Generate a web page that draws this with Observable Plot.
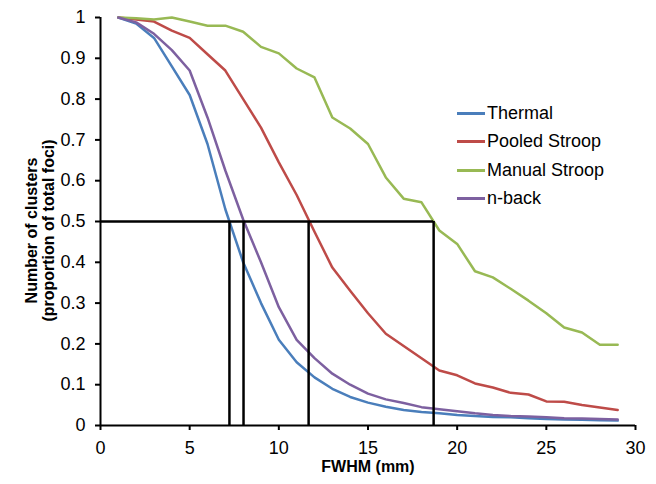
<!DOCTYPE html>
<html><head><meta charset="utf-8">
<script src="https://cdn.jsdelivr.net/npm/d3@7"></script>
<script src="https://cdn.jsdelivr.net/npm/@observablehq/plot@0.6"></script>
<style>
body{margin:0;background:#fff;font-family:"Liberation Sans",Arial,sans-serif}
#wrap{position:relative;width:656px;height:484px}
#legend{position:absolute;left:457px;top:99px;font-size:18px;color:#000}
.item{display:flex;align-items:center;height:28.5px}
.sw{width:28px;height:3px;margin-right:2px}
</style></head><body><div id="wrap"><div id="legend"></div></div>
<script>
const fwhm = [1,2,3,4,5,6,7,8,9,10,11,12,13,14,15,16,17,18,19,20,21,22,23,24,25,26,27,28,29];
const thermal = [1,0.985,0.95,0.88,0.81,0.69,0.53,0.40,0.30,0.21,0.155,0.118,0.09,0.07,0.056,0.046,0.038,0.033,0.03,0.026,0.023,0.021,0.02,0.018,0.016,0.015,0.014,0.013,0.012];
const pooled = [1,0.995,0.99,0.968,0.95,0.91,0.87,0.80,0.73,0.645,0.565,0.475,0.387,0.33,0.275,0.225,0.195,0.165,0.135,0.123,0.103,0.093,0.08,0.076,0.059,0.058,0.05,0.044,0.038];
const manual = [1,0.998,0.995,1,0.99,0.98,0.98,0.965,0.928,0.912,0.875,0.853,0.755,0.728,0.69,0.608,0.556,0.547,0.478,0.445,0.378,0.363,0.335,0.306,0.275,0.24,0.228,0.198,0.198];
const nback = [1,0.988,0.96,0.92,0.87,0.755,0.625,0.505,0.40,0.29,0.21,0.165,0.127,0.10,0.078,0.064,0.055,0.045,0.04,0.035,0.03,0.026,0.023,0.022,0.02,0.018,0.017,0.016,0.015];
const seriesNames = ["Thermal","Pooled Stroop","Manual Stroop","n-back"];
const seriesColors = ["#4a7ebb","#be4b48","#98b954","#7d60a0"];
const halfCrossings = [7.23, 8.02, 11.67, 18.68];
const halfLevel = 0.5;
const xTicks = [0,5,10,15,20,25,30];
const yTicks = [0,0.1,0.2,0.3,0.4,0.5,0.6,0.7,0.8,0.9,1];

const seriesValues = [thermal, pooled, manual, nback];
const rows = seriesValues.flatMap((vals, i) => vals.map((v, j) => ({x: fwhm[j], y: v, s: seriesNames[i]})));
const vrules = halfCrossings.map(c => ({x: c, y1: 0, y2: halfLevel}));
const maxCross = d3.max(halfCrossings);

const chart = Plot.plot({
  width: 656, height: 484,
  marginLeft: 100, marginRight: 21, marginTop: 17, marginBottom: 59,
  style: {fontFamily: '"Liberation Sans", Arial, sans-serif', fontSize: "18px", color: "#000", background: "#fff"},
  x: {domain: [0, 30]},
  y: {domain: [0, 1]},
  color: {domain: seriesNames, range: seriesColors},
  marks: [
    Plot.line(rows, {x: "x", y: "y", z: "s", stroke: "s", strokeWidth: 2.5}),
    Plot.ruleY([halfLevel], {x1: 0, x2: maxCross, stroke: "#000", strokeWidth: 2.5}),
    Plot.ruleX(vrules, {x: "x", y1: "y1", y2: "y2", stroke: "#000", strokeWidth: 2.5}),
    Plot.ruleX([0], {stroke: "#000", strokeWidth: 2}),
    Plot.ruleY([0], {stroke: "#000", strokeWidth: 2}),
    Plot.axisX({ticks: xTicks, tickSize: 5, tickPadding: 11, fontSize: 18, label: null, strokeWidth: 2}),
    Plot.axisY({ticks: yTicks, tickSize: 5, tickPadding: 10, fontSize: 18, label: null, strokeWidth: 2, tickFormat: d => String(+d.toFixed(1))}),
    Plot.text(["FWHM (mm)"], {frameAnchor: "bottom", lineAnchor: "middle", dy: 41, fontSize: 16, fontWeight: "bold", text: d => d}),
    Plot.text(["Number of clusters"], {frameAnchor: "left", textAnchor: "middle", dx: -69, dy: 9, rotate: -90, fontSize: 16, fontWeight: "bold", text: d => d}),
    Plot.text(["(proportion of total foci)"], {frameAnchor: "left", textAnchor: "middle", dx: -52, dy: 9, rotate: -90, fontSize: 16, fontWeight: "bold", text: d => d})
  ]
});
document.getElementById("wrap").prepend(chart);

const legend = d3.select("#legend");
seriesNames.forEach((n, i) => {
  const it = legend.append("div").attr("class", "item");
  it.append("div").attr("class", "sw").style("background", seriesColors[i]);
  it.append("span").text(n);
});
</script>
</body></html>
